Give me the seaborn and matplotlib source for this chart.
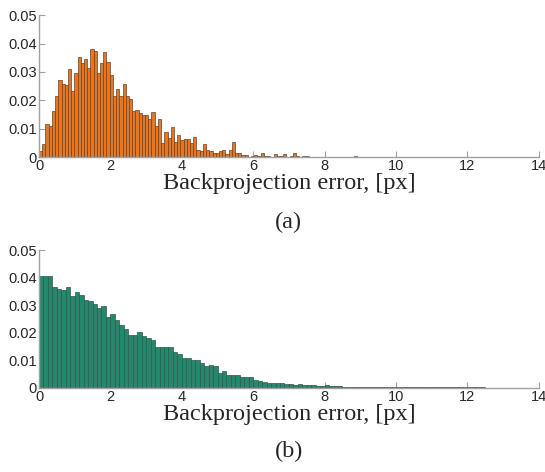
import numpy as np
import pandas as pd
import matplotlib
matplotlib.use("Agg")
import matplotlib.pyplot as plt
import seaborn as sns

# (a) fraction of points per bin, bin width 0.09 px
width_a = 0.09
frac_a = [0.0021, 0.0045, 0.0116, 0.0108, 0.0164, 0.0214, 0.0272, 0.0256, 0.0253, 0.0310,
          0.0234, 0.0295, 0.0351, 0.0333, 0.0347, 0.0315, 0.0380, 0.0375, 0.0295, 0.0333,
          0.0371, 0.0336, 0.0290, 0.0215, 0.0239, 0.0215, 0.0258, 0.0217, 0.0205, 0.0164,
          0.0167, 0.0156, 0.0149, 0.0149, 0.0135, 0.0158, 0.0111, 0.0135, 0.0050, 0.0088,
          0.0068, 0.0105, 0.0055, 0.0077, 0.0061, 0.0064, 0.0064, 0.0049, 0.0070, 0.0027,
          0.0022, 0.0045, 0.0026, 0.0021, 0.0015, 0.0015, 0.0022, 0.0027, 0.0010, 0.0026,
          0.0054, 0.0014, 0.0014, 0.0008, 0.0008, 0.0, 0.0004, 0.0008, 0.0004, 0.0015,
          0.0004, 0.0004, 0.0, 0.0010, 0.0004, 0.0004, 0.0010, 0.0, 0.0004, 0.0013,
          0.0004, 0.0, 0.0004, 0.0004, 0.0, 0.0, 0.0, 0.0, 0.0, 0.0,
          0.0, 0.0, 0.0, 0.0, 0.0, 0.0, 0.0, 0.0, 0.0004, 0.0]

# (b) fraction of points per bin, bin width 0.125 px
width_b = 0.125
frac_b = [0.0406, 0.0406, 0.0405, 0.0367, 0.0360, 0.0355, 0.0367, 0.0334, 0.0349, 0.0339,
          0.0320, 0.0316, 0.0306, 0.0290, 0.0298, 0.0258, 0.0270, 0.0245, 0.0230, 0.0215,
          0.0194, 0.0194, 0.0203, 0.0190, 0.0183, 0.0173, 0.0150, 0.0147, 0.0147, 0.0147,
          0.0129, 0.0125, 0.0109, 0.0107, 0.0101, 0.0100, 0.0089, 0.0079, 0.0082, 0.0078,
          0.0056, 0.0062, 0.0046, 0.0046, 0.0046, 0.0040, 0.0040, 0.0040, 0.0029, 0.0026,
          0.0023, 0.0017, 0.0017, 0.0017, 0.0019, 0.0016, 0.0014, 0.0012, 0.0015, 0.0012,
          0.0011, 0.0010, 0.0009, 0.0008, 0.0010, 0.0007, 0.0006, 0.0006, 0.0005, 0.0005,
          0.0004, 0.0004, 0.0004, 0.0003, 0.0004, 0.0003, 0.0004, 0.0003, 0.0002, 0.0002,
          0.0004, 0.0002, 0.0002, 0.0002, 0.0002, 0.0002, 0.0002, 0.0002, 0.0002, 0.0002,
          0.0002, 0.0002, 0.0002, 0.0002, 0.0002, 0.0004, 0.0002, 0.0002, 0.0002, 0.0002]

x_ticks = [0, 2, 4, 6, 8, 10, 12, 14]
y_ticks = [0, 0.01, 0.02, 0.03, 0.04, 0.05]
y_labels = ["0", "0.01", "0.02", "0.03", "0.04", "0.05"]
xlabel = "Backprojection error, [px]"

sns.set_style("white")
plt.rcParams['font.family'] = ['Liberation Sans', 'DejaVu Sans']

fig = plt.figure(figsize=(5.45, 4.72), dpi=100)
ax_a = fig.add_axes([0.0716, 0.667, 0.917, 0.301])
ax_b = fig.add_axes([0.0716, 0.178, 0.917, 0.292])


def draw(ax, frac, width, color, tag):
    n = len(frac)
    df = pd.DataFrame({"err": (np.arange(n) + 0.5) * width, "frac": frac})
    sns.histplot(data=df, x="err", weights="frac", binwidth=width,
                 binrange=(0, n * width), ax=ax, color=color,
                 alpha=1, edgecolor="#4a4a4a", linewidth=0.5)
    ax.set_xlim(0, 14)
    ax.set_ylim(0, 0.05)
    ax.set_xticks(x_ticks)
    ax.set_yticks(y_ticks)
    ax.set_yticklabels(y_labels)
    ax.set_ylabel("")
    ax.set_xlabel(xlabel, family="Liberation Serif", fontsize=17.5, labelpad=0)
    for s in ["top", "right"]:
        ax.spines[s].set_visible(False)
    for s in ["left", "bottom"]:
        ax.spines[s].set_color("#a0a0a0")
        ax.spines[s].set_linewidth(1.0)
    ax.tick_params(direction="in", length=4, color="#a0a0a0", labelsize=10.5,
                   pad=1.5, left=True, bottom=True)
    ax.text(0.5, -0.46, tag, transform=ax.transAxes, ha="center", va="center",
            family="Liberation Serif", fontsize=17.5)


draw(ax_a, frac_a, width_a, "#f07315", "(a)")
draw(ax_b, frac_b, width_b, "#1f8a6c", "(b)")

fig.savefig("out.png", dpi=100)
